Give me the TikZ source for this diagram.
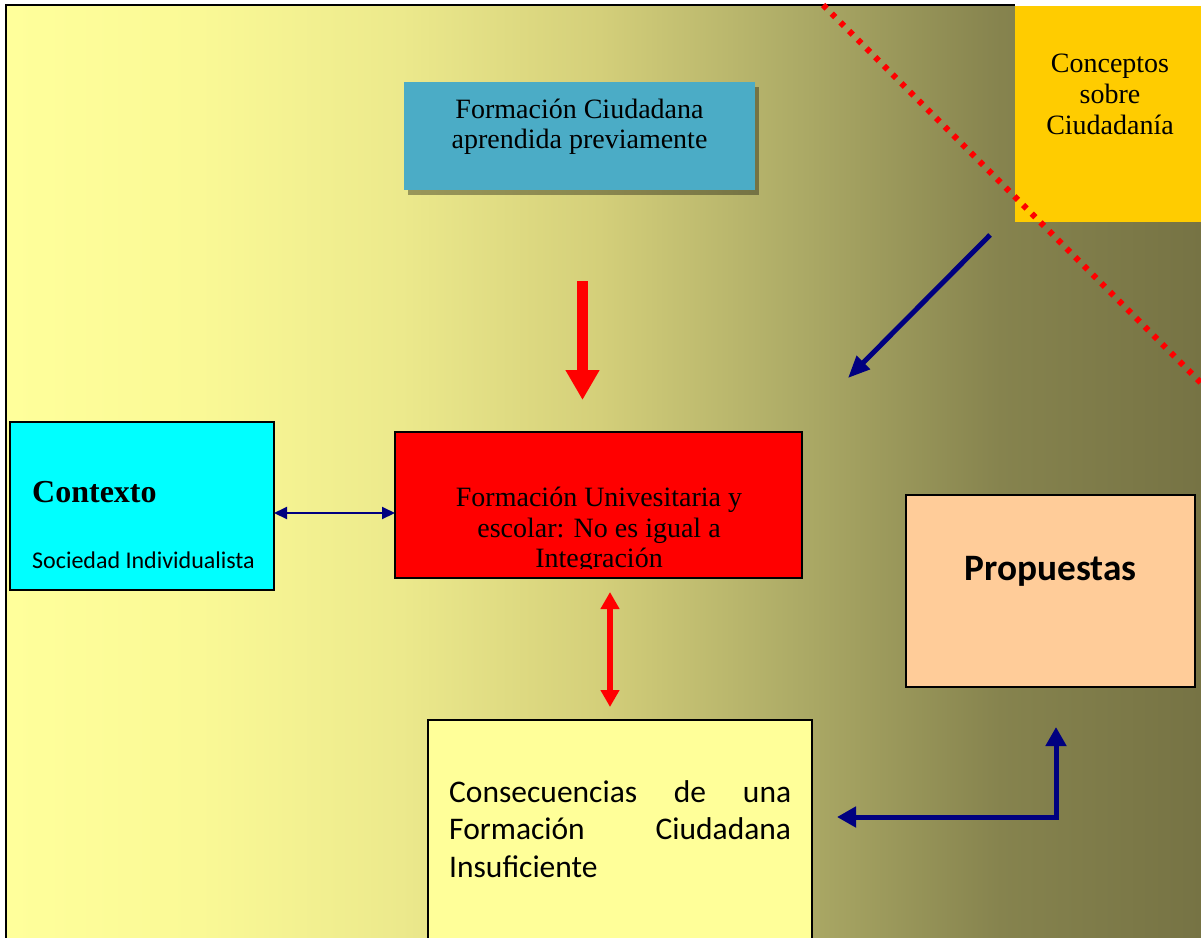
\documentclass[tikz,border=0pt]{standalone}
\usepackage{fontspec}
\setmainfont{Liberation Serif}
\newfontfamily\calib{Carlito}
\usetikzlibrary{arrows.meta,calc}
\definecolor{navyc}{RGB}{0,0,128}
\definecolor{topblue}{RGB}{75,172,198}
\definecolor{conceptc}{RGB}{255,204,0}
\definecolor{peach}{RGB}{255,204,153}
\definecolor{paleyel}{RGB}{255,255,153}
\definecolor{ctxcyan}{RGB}{0,255,255}
\definecolor{boxred}{RGB}{255,0,0}
\pgfdeclarehorizontalshading{bggrad}{100bp}{
rgb(0bp)=(1,1,0.608);
rgb(25bp)=(1,1,0.608);
rgb(33.1bp)=(0.98,0.976,0.588);
rgb(41.5bp)=(0.925,0.914,0.549);
rgb(49.8bp)=(0.831,0.812,0.478);
rgb(58.2bp)=(0.675,0.667,0.4);
rgb(66.6bp)=(0.525,0.514,0.306);
rgb(75bp)=(0.463,0.451,0.267);
rgb(100bp)=(0.463,0.451,0.267)}
\tikzset{
 box/.style={anchor=north west, inner sep=0pt, outer sep=0pt, draw=black, line width=2pt},
 camb/.style={font=\fontsize{28}{30}\selectfont, inner sep=0pt, anchor=base, text=black},
 navyarr/.style={draw=navyc, line width=5pt},
 consq/.style={inner sep=0pt, anchor=base west, font=\calib\fontsize{31.5}{38}\selectfont},
}
\begin{document}
\begin{tikzpicture}[x=1pt,y=-1pt]
\useasboundingbox (0,0) rectangle (1201,937);
\clip (0,0) rectangle (1201,937);
% background
\shade[shading=bggrad] (7,6) rectangle (1201,937);
\draw[black, line width=2pt] (6,940) -- (6,5) -- (1015,5);
% shadow of top box
\fill[black, opacity=0.35] (408,87) rectangle (759,195);
% boxes
\node[box, draw=none, fill=topblue, minimum width=351pt, minimum height=108pt] (fcp) at (404,82) {};
\node[box, draw=none, fill=conceptc, minimum width=190pt, minimum height=216pt] (con) at (1015,6) {};
\node[box, fill=boxred, minimum width=407pt, minimum height=146pt] (fue) at (395,432) {};
\node[box, fill=ctxcyan, minimum width=264pt, minimum height=168pt] (ctx) at (10,422) {};
\node[box, fill=peach, minimum width=289pt, minimum height=192pt] (pro) at (906,495) {};
\node[box, fill=paleyel, minimum width=384pt, minimum height=240pt] (cfc) at (428,720) {};
% texts
\node[camb] (t1a) at (579.5,118) {Formación Ciudadana};
\node[camb] (t1b) at (579.5,148) {aprendida previamente};
\node[camb] (t2a) at (1110,72) {Conceptos};
\node[camb] (t2b) at (1110,103) {sobre};
\node[camb] (t2c) at (1110,134) {Ciudadanía};
\node[camb] (t3a) at (599,506) {Formación Univesitaria y};
\node[camb] (t3b) at (599,537) {escolar: No es igual a};
\begin{scope}
\clip (397,432) rectangle (800,568);
\node[camb] (t3c) at (599,567.5) {Integración};
\end{scope}
\node[inner sep=0pt, anchor=base west, font=\bfseries\fontsize{32}{36}\selectfont] (t4a) at (32,502) {Contexto};
\node[inner sep=0pt, anchor=base west, font=\calib\fontsize{24}{28}\selectfont] (t4b) at (32,568) {Sociedad Individualista};
\node[inner sep=0pt, anchor=base, font=\calib\bfseries\fontsize{37.3}{40}\selectfont] (t5) at (1050.5,580) {Propuestas};
\node[consq] (t6a) at (449,802) {\makebox[342pt][s]{Consecuencias de una}};
\node[consq] (t6b) at (449,839) {\makebox[342pt][s]{Formación Ciudadana}};
\node[consq] (t6c) at (449,877) {Insuficiente};
% connectors
\coordinate (rd1) at (582.5,281);
\coordinate (rd2) at (582.5,400);
\draw[boxred, line width=11pt, -{Triangle[width=32pt,length=30pt]}] (rd1) -- (rd2);
\coordinate (rv1) at (610,592);
\coordinate (rv2) at (610,707);
\draw[boxred, line width=6pt, {Triangle[width=18pt,length=17pt]}-{Triangle[width=18pt,length=17pt]}] (rv1) -- (rv2);
\coordinate (hy) at (0,513);
\draw[navyc, line width=2pt, {Triangle[width=12pt,length=13pt]}-{Triangle[width=12pt,length=13pt]}] (ctx.east |- hy) -- (fue.west |- hy);
\coordinate (dg1) at (990,235);
\coordinate (dg2) at (848,378);
\draw[navyarr, -{Triangle[width=18pt,length=22pt]}] (dg1) -- (dg2);
\coordinate (el1) at (837,817);
\coordinate (el2) at (1056,727);
\draw[navyarr, miter limit=10, {Triangle[width=20pt,length=19pt]}-{Triangle[width=20pt,length=19pt]}] (el1) -| (el2);
% dotted divider
\draw[boxred, line width=6pt, dash pattern=on 5pt off 7.3pt] (823,5) -- (1206,388);
\end{tikzpicture}
\end{document}
